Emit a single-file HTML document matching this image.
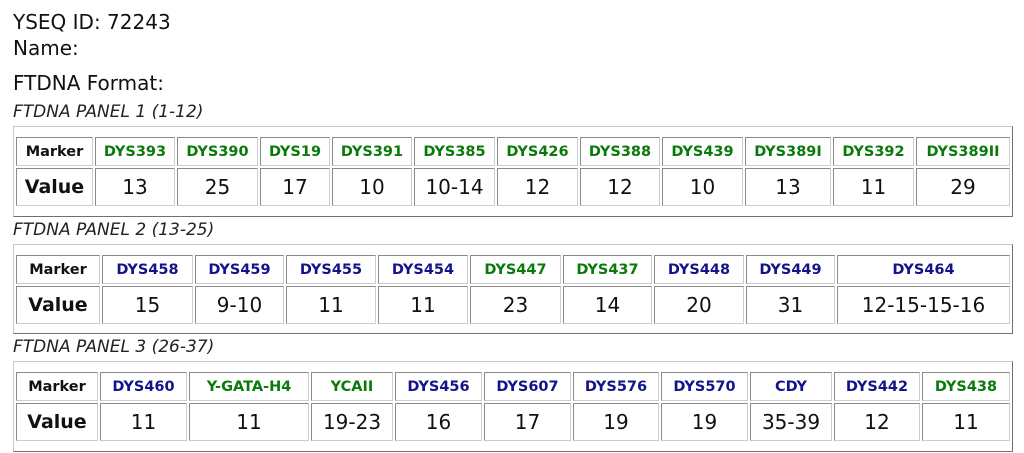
<!DOCTYPE html>
<html>
<head>
<meta charset="utf-8">
<style>
  html,body{margin:0;padding:0;background:#fff;}
  body{width:1024px;height:453px;position:relative;overflow:hidden;
       font-family:"DejaVu Sans","Liberation Sans",sans-serif;color:#111;}
  .t{position:absolute;left:13px;white-space:nowrap;line-height:20px;font-size:20px;}
  .cap{position:absolute;left:13px;white-space:nowrap;font-style:italic;font-size:17px;line-height:17px;color:#222;}
  .box{position:absolute;left:13px;width:1000px;box-sizing:border-box;
       border:1px solid;border-color:#c8c8c8 #707070 #707070 #c8c8c8;}
  .c{position:absolute;box-sizing:border-box;border:1px solid;
     border-color:#8a8a8a #cdcdcd #cdcdcd #8a8a8a;display:flex;align-items:center;justify-content:center;
     white-space:nowrap;}
  .h{font-weight:bold;font-size:14.5px;}
  .v{font-size:20px;color:#111;}
  .vl{font-weight:bold;font-size:19px;color:#111;}
  .g{color:#0a7a0a;}
  .b{color:#14148a;}
  .k{color:#111;}
</style>
</head>
<body>
<div class="t" style="top:12px;">YSEQ ID: 72243</div>
<div class="t" style="top:38px;">Name:</div>
<div class="t" style="top:73px;">FTDNA Format:</div>

<div class="cap" style="top:104px;">FTDNA PANEL 1 (1-12)</div>
<div class="box" style="top:126px;height:91px;"></div>
<div class="c h k" style="left:16px;top:137px;width:77px;height:29px;">Marker</div>
<div class="c h g" style="left:95px;top:137px;width:80px;height:29px;">DYS393</div>
<div class="c h g" style="left:177px;top:137px;width:81px;height:29px;">DYS390</div>
<div class="c h g" style="left:260px;top:137px;width:70px;height:29px;">DYS19</div>
<div class="c h g" style="left:332px;top:137px;width:80px;height:29px;">DYS391</div>
<div class="c h g" style="left:414px;top:137px;width:81px;height:29px;">DYS385</div>
<div class="c h g" style="left:497px;top:137px;width:81px;height:29px;">DYS426</div>
<div class="c h g" style="left:580px;top:137px;width:80px;height:29px;">DYS388</div>
<div class="c h g" style="left:662px;top:137px;width:81px;height:29px;">DYS439</div>
<div class="c h g" style="left:745px;top:137px;width:86px;height:29px;">DYS389I</div>
<div class="c h g" style="left:833px;top:137px;width:81px;height:29px;">DYS392</div>
<div class="c h g" style="left:916px;top:137px;width:94px;height:29px;">DYS389II</div>
<div class="c vl" style="left:16px;top:168px;width:77px;height:38px;">Value</div>
<div class="c v" style="left:95px;top:168px;width:80px;height:38px;">13</div>
<div class="c v" style="left:177px;top:168px;width:81px;height:38px;">25</div>
<div class="c v" style="left:260px;top:168px;width:70px;height:38px;">17</div>
<div class="c v" style="left:332px;top:168px;width:80px;height:38px;">10</div>
<div class="c v" style="left:414px;top:168px;width:81px;height:38px;">10-14</div>
<div class="c v" style="left:497px;top:168px;width:81px;height:38px;">12</div>
<div class="c v" style="left:580px;top:168px;width:80px;height:38px;">12</div>
<div class="c v" style="left:662px;top:168px;width:81px;height:38px;">10</div>
<div class="c v" style="left:745px;top:168px;width:86px;height:38px;">13</div>
<div class="c v" style="left:833px;top:168px;width:81px;height:38px;">11</div>
<div class="c v" style="left:916px;top:168px;width:94px;height:38px;">29</div>

<div class="cap" style="top:222px;">FTDNA PANEL 2 (13-25)</div>
<div class="box" style="top:244px;height:90px;"></div>
<div class="c h k" style="left:16px;top:255px;width:84px;height:29px;">Marker</div>
<div class="c h b" style="left:102px;top:255px;width:91px;height:29px;">DYS458</div>
<div class="c h b" style="left:195px;top:255px;width:89px;height:29px;">DYS459</div>
<div class="c h b" style="left:286px;top:255px;width:90px;height:29px;">DYS455</div>
<div class="c h b" style="left:378px;top:255px;width:90px;height:29px;">DYS454</div>
<div class="c h g" style="left:470px;top:255px;width:91px;height:29px;">DYS447</div>
<div class="c h g" style="left:563px;top:255px;width:89px;height:29px;">DYS437</div>
<div class="c h b" style="left:654px;top:255px;width:90px;height:29px;">DYS448</div>
<div class="c h b" style="left:746px;top:255px;width:89px;height:29px;">DYS449</div>
<div class="c h b" style="left:837px;top:255px;width:173px;height:29px;">DYS464</div>
<div class="c vl" style="left:16px;top:286px;width:84px;height:38px;">Value</div>
<div class="c v" style="left:102px;top:286px;width:91px;height:38px;">15</div>
<div class="c v" style="left:195px;top:286px;width:89px;height:38px;">9-10</div>
<div class="c v" style="left:286px;top:286px;width:90px;height:38px;">11</div>
<div class="c v" style="left:378px;top:286px;width:90px;height:38px;">11</div>
<div class="c v" style="left:470px;top:286px;width:91px;height:38px;">23</div>
<div class="c v" style="left:563px;top:286px;width:89px;height:38px;">14</div>
<div class="c v" style="left:654px;top:286px;width:90px;height:38px;">20</div>
<div class="c v" style="left:746px;top:286px;width:89px;height:38px;">31</div>
<div class="c v" style="left:837px;top:286px;width:173px;height:38px;">12-15-15-16</div>

<div class="cap" style="top:339px;">FTDNA PANEL 3 (26-37)</div>
<div class="box" style="top:361px;height:91px;"></div>
<div class="c h k" style="left:16px;top:372px;width:82px;height:29px;">Marker</div>
<div class="c h b" style="left:100px;top:372px;width:87px;height:29px;">DYS460</div>
<div class="c h g" style="left:189px;top:372px;width:120px;height:29px;">Y-GATA-H4</div>
<div class="c h g" style="left:311px;top:372px;width:82px;height:29px;">YCAII</div>
<div class="c h b" style="left:395px;top:372px;width:87px;height:29px;">DYS456</div>
<div class="c h b" style="left:484px;top:372px;width:87px;height:29px;">DYS607</div>
<div class="c h b" style="left:573px;top:372px;width:86px;height:29px;">DYS576</div>
<div class="c h b" style="left:661px;top:372px;width:87px;height:29px;">DYS570</div>
<div class="c h b" style="left:750px;top:372px;width:82px;height:29px;">CDY</div>
<div class="c h b" style="left:834px;top:372px;width:86px;height:29px;">DYS442</div>
<div class="c h g" style="left:922px;top:372px;width:88px;height:29px;">DYS438</div>
<div class="c vl" style="left:16px;top:403px;width:82px;height:38px;">Value</div>
<div class="c v" style="left:100px;top:403px;width:87px;height:38px;">11</div>
<div class="c v" style="left:189px;top:403px;width:120px;height:38px;">11</div>
<div class="c v" style="left:311px;top:403px;width:82px;height:38px;">19-23</div>
<div class="c v" style="left:395px;top:403px;width:87px;height:38px;">16</div>
<div class="c v" style="left:484px;top:403px;width:87px;height:38px;">17</div>
<div class="c v" style="left:573px;top:403px;width:86px;height:38px;">19</div>
<div class="c v" style="left:661px;top:403px;width:87px;height:38px;">19</div>
<div class="c v" style="left:750px;top:403px;width:82px;height:38px;">35-39</div>
<div class="c v" style="left:834px;top:403px;width:86px;height:38px;">12</div>
<div class="c v" style="left:922px;top:403px;width:88px;height:38px;">11</div>
</body>
</html>
